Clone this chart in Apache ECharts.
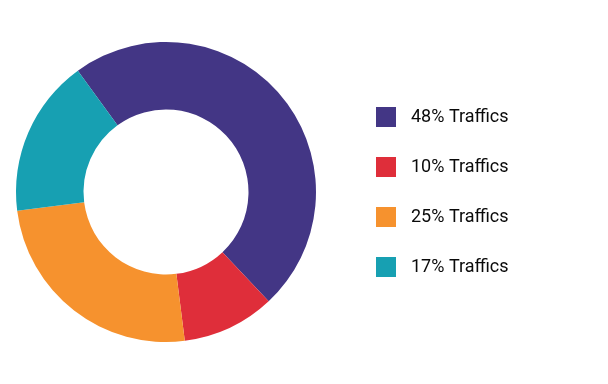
<!DOCTYPE html>
<html><head><meta charset="utf-8">
<script src="https://cdn.jsdelivr.net/npm/echarts@6/dist/echarts.min.js"></script>
<style>html,body{margin:0;padding:0;background:#fff}#c{width:608px;height:384px}</style>
</head><body><div id="c"></div>
<script>
const categories = ['48% Traffics', '10% Traffics', '25% Traffics', '17% Traffics'];
const values = [48, 10, 25, 17];
const colors = ['#433685', '#DF2E3A', '#F6922E', '#17A0B2'];

const chart = echarts.init(document.getElementById('c'), null, {renderer: 'canvas'});
chart.setOption({
  animation: false,
  color: colors,
  legend: {
    orient: 'vertical',
    left: 371,
    top: 102,
    itemWidth: 20,
    itemHeight: 20,
    itemGap: 30,
    icon: 'rect',
    data: categories,
    selectedMode: false,
    textStyle: {
      fontFamily: 'Roboto',
      fontSize: 18,
      color: '#0a0a0a',
      padding: [2, 0, 0, 10]
    }
  },
  series: [{
    type: 'pie',
    center: [166, 192],
    radius: [82.5, 150],
    startAngle: 126,
    clockwise: true,
    silent: true,
    label: {show: false},
    labelLine: {show: false},
    itemStyle: {borderWidth: 0},
    data: categories.map((n, i) => ({name: n, value: values[i]}))
  }]
});
</script>
</body></html>
